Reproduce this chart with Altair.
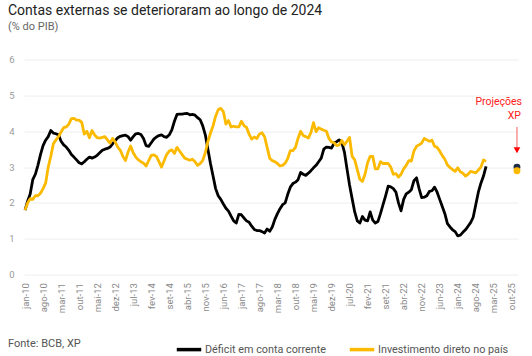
import altair as alt
import pandas as pd

meses = ["jan", "fev", "mar", "abr", "mai", "jun", "jul", "ago", "set", "out", "nov", "dez"]
series = ["Déficit em conta corrente", "Investimento direto no país"]
cores = ["#000000", "#FBBA00"]

# monthly values, jan-10 ... dez-24 (% do PIB)
deficit = [
    1.80, 2.05, 2.25, 2.65, 2.80, 3.05, 3.35, 3.60, 3.75, 3.85, 4.02, 3.95,
    3.93, 3.90, 3.72, 3.62, 3.56, 3.47, 3.35, 3.28, 3.20, 3.12, 3.09, 3.15,
    3.22, 3.28, 3.25, 3.28, 3.33, 3.40, 3.47, 3.50, 3.52, 3.56, 3.65, 3.74,
    3.82, 3.86, 3.88, 3.89, 3.85, 3.75, 3.85, 3.93, 3.94, 3.91, 3.80, 3.60,
    3.58, 3.68, 3.78, 3.84, 3.88, 3.90, 3.85, 3.83, 3.90, 4.04, 4.28, 4.47,
    4.48, 4.48, 4.49, 4.50, 4.46, 4.47, 4.45, 4.38, 4.32, 4.15, 3.90, 3.50,
    3.10, 2.75, 2.40, 2.20, 2.10, 1.97, 1.85, 1.77, 1.63, 1.50, 1.44, 1.68,
    1.67, 1.58, 1.50, 1.46, 1.35, 1.26, 1.23, 1.23, 1.20, 1.16, 1.27, 1.21,
    1.33, 1.54, 1.70, 1.84, 1.95, 2.00, 2.24, 2.44, 2.54, 2.58, 2.65, 2.85,
    2.80, 2.77, 2.83, 2.90, 2.98, 3.05, 3.15, 3.25, 3.50, 3.56, 3.55, 3.53,
    3.67, 3.71, 3.76, 3.68, 3.42, 2.95, 2.50, 2.12, 1.75, 1.50, 1.44, 1.62,
    1.52, 1.50, 1.75, 1.52, 1.44, 1.48, 1.70, 1.95, 2.20, 2.47, 2.45, 2.40,
    2.30, 2.00, 1.78, 2.10, 2.25, 2.30, 2.37, 2.62, 2.70, 2.40, 2.15, 2.16,
    2.20, 2.32, 2.34, 2.44, 2.30, 2.10, 1.90, 1.70, 1.42, 1.33, 1.25, 1.20,
    1.08, 1.10, 1.18, 1.25, 1.35, 1.45, 1.60, 1.95, 2.30, 2.55, 2.75, 3.02,
]
idp = [
    1.80, 2.00, 2.12, 2.10, 2.20, 2.20, 2.27, 2.40, 2.55, 3.00, 3.30, 3.65,
    3.76, 3.85, 3.98, 4.10, 4.12, 4.20, 4.35, 4.36, 4.31, 4.31, 4.25, 3.92,
    4.00, 3.82, 4.02, 3.90, 3.82, 3.81, 3.83, 3.85, 3.76, 3.67, 3.80, 3.70,
    3.56, 3.47, 3.30, 3.18, 3.42, 3.59, 3.40, 3.28, 3.20, 3.15, 3.11, 3.03,
    3.18, 3.33, 3.34, 3.30, 3.15, 3.00, 3.18, 3.35, 3.45, 3.48, 3.38, 3.55,
    3.45, 3.35, 3.25, 3.22, 3.19, 3.22, 3.15, 3.05, 3.10, 3.19, 3.40, 3.72,
    3.95, 4.15, 4.42, 4.60, 4.64, 4.55, 4.20, 4.30, 4.12, 4.14, 4.12, 4.12,
    4.28, 4.16, 4.11, 3.92, 3.78, 3.84, 3.80, 3.92, 3.96, 3.85, 3.55, 3.25,
    3.18, 3.15, 3.10, 3.03, 3.05, 3.11, 3.24, 3.46, 3.46, 3.55, 3.80, 4.00,
    3.88, 3.85, 3.81, 3.96, 4.24, 3.99, 4.10, 4.06, 4.03, 4.00, 3.80, 3.70,
    3.68, 3.60, 3.62, 3.74, 3.62, 3.72, 3.83, 3.30, 3.20, 2.93, 2.66, 2.60,
    2.80, 3.12, 3.30, 3.30, 2.95, 2.95, 3.15, 3.10, 3.10, 3.10, 3.00, 2.80,
    2.82, 2.72, 2.80, 2.95, 3.05, 3.18, 3.17, 3.45, 3.58, 3.62, 3.67, 3.80,
    3.76, 3.72, 3.75, 3.58, 3.55, 3.45, 3.32, 3.22, 3.06, 2.99, 2.93, 2.88,
    2.98, 2.87, 2.83, 2.75, 2.80, 2.88, 2.86, 2.84, 2.92, 3.00, 3.20, 3.16,
]
# XP projections for dez-25
proj_mes = [191, 191]
proj_valor = [3.0, 2.9]
proj_cor = ["#1E2B45", "#FBBA00"]

rows = []
for s, vals in zip(series, [deficit, idp]):
    for i, v in enumerate(vals):
        rows.append({"m": i, "serie": s, "valor": v})
df = pd.DataFrame(rows)
df_proj = pd.DataFrame({"m": proj_mes, "valor": proj_valor, "cor": proj_cor})

lbl_arr = "[" + ",".join(f"'{x}'" for x in meses) + "]"
label_expr = f"{lbl_arr}[datum.value % 12] + '-' + (10 + floor(datum.value / 12))"

FONT = "Roboto"
W, H = 494, 215
PL, PT = 24, 59.6

x_scale = alt.Scale(domain=[-0.4, 191.4], nice=False, zero=False)
y_scale = alt.Scale(domain=[0, 6], nice=False)
x_axis = alt.Axis(values=list(range(0, 190, 7)), labelExpr=label_expr,
                  labelAngle=270, grid=False, domain=False, ticks=False,
                  labelPadding=8, labelFontSize=9.5, labelColor="#8a8a8a",
                  labelFont=FONT, title=None, labelOverlap=False, labelFlush=False)
y_axis = alt.Axis(values=[0, 1, 2, 3, 4, 5, 6], grid=True, gridColor="#eeeeee",
                  gridWidth=1, domain=False, ticks=False, labelPadding=10,
                  labelFontSize=9.5, labelColor="#9a9a9a", labelFont=FONT,
                  title=None, labelOverlap=False, labelFlush=False)

def X(field="m"):
    return alt.X(f"{field}:Q", scale=x_scale, axis=x_axis)

def Y(field):
    return alt.Y(f"{field}:Q", scale=y_scale, axis=y_axis)

lines = alt.Chart(df).mark_line(strokeWidth=2.8, strokeJoin="round").encode(
    x=X(),
    y=Y("valor"),
    color=alt.Color("serie:N", scale=alt.Scale(domain=series, range=cores),
                    legend=alt.Legend(orient="none", legendX=151, legendY=276,
                                      direction="horizontal", title=None,
                                      symbolType="stroke", symbolStrokeWidth=3.5,
                                      symbolSize=600, labelFontSize=10.8,
                                      labelColor="#555555", labelFont=FONT,
                                      labelOffset=2, columnPadding=16,
                                      labelLimit=300)),
)

pts = alt.Chart(df_proj).mark_circle(size=48, opacity=1).encode(
    x=X(),
    y=Y("valor"),
    color=alt.Color("cor:N", scale=None),
)

ann_rule = alt.Chart(pd.DataFrame({"m": [191], "y1": [4.12], "y2": [3.55]})).mark_rule(
    color="#F27B7B", strokeWidth=1.2).encode(
    x=X(), y=Y("y1"), y2="y2:Q")
ann_tri = alt.Chart(pd.DataFrame({"m": [191], "v": [3.47]})).mark_point(
    shape="triangle-down", filled=True, color="#FF0000", size=45, opacity=1).encode(
    x=X(), y=Y("v"))

def txt(t, x, y, size, color, align="left", weight="normal"):
    return alt.Chart(pd.DataFrame({"t": [t]})).mark_text(
        align=align, baseline="alphabetic", fontSize=size, color=color,
        font=FONT, fontWeight=weight).encode(
        x=alt.value(x), y=alt.value(y), text="t:N")

titulo = txt("Contas externas se deterioraram ao longo de 2024", 8 - PL, 15 - PT, 14, "#222222")
subtitulo = txt("(% do PIB)", 8 - PL, 30 - PT, 11, "#666666")
fonte = txt("Fonte: BCB, XP", 8 - PL, 347 - PT, 11, "#555555")
proj1 = txt("Projeções", 522 - PL, 105 - PT, 10.5, "#FF2020", align="right")
proj2 = txt("XP", 521 - PL, 119 - PT, 10.5, "#FF2020", align="right")

chart = alt.layer(lines, pts, ann_rule, ann_tri, titulo, subtitulo, fonte, proj1, proj2).properties(
    width=W, height=H,
    autosize=alt.AutoSizeParams(type="none"),
    padding={"left": PL, "top": PT, "right": 532 - PL - W, "bottom": 356 - PT - H},
    background="white",
).configure_view(stroke=None)

chart.save("out.html", embed_options={"renderer": "svg", "actions": False})
